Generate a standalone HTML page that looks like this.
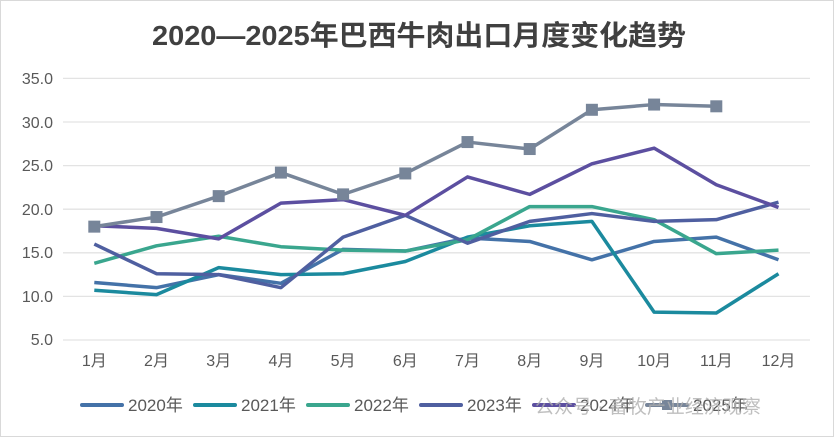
<!DOCTYPE html>
<html><head><meta charset="utf-8"><style>
body{margin:0;background:#fff}
svg{display:block;font-family:"Liberation Sans","Noto Sans CJK SC",sans-serif}
</style></head><body>
<svg width="834" height="437" viewBox="0 0 834 437">
<rect x="0.5" y="0.5" width="833" height="436" fill="#fff" stroke="#d9d9d9"/>
<text x="419" y="45" text-anchor="middle" font-size="28" font-weight="bold" fill="#404040" textLength="534" lengthAdjust="spacingAndGlyphs">2020—2025年巴西牛肉出口月度变化趋势</text>
<g stroke="#e3e3e3" stroke-width="1.3">
<line x1="63" x2="810" y1="78.4" y2="78.4"/><line x1="63" x2="810" y1="122" y2="122"/>
<line x1="63" x2="810" y1="165.6" y2="165.6"/><line x1="63" x2="810" y1="209.2" y2="209.2"/>
<line x1="63" x2="810" y1="252.8" y2="252.8"/><line x1="63" x2="810" y1="296.4" y2="296.4"/>
<line x1="63" x2="810" y1="340" y2="340"/>
</g>
<g font-size="16" fill="#595959" text-anchor="end">
<text x="53" y="84">35.0</text><text x="53" y="128">30.0</text><text x="53" y="171">25.0</text>
<text x="53" y="215">20.0</text><text x="53" y="258">15.0</text><text x="53" y="302">10.0</text><text x="53" y="345">5.0</text>
</g>
<g font-size="16" fill="#595959" text-anchor="middle" id="xl"></g>
<g id="series" fill="none" stroke-width="3.5" stroke-linejoin="round"></g>
<g font-size="17" fill="#595959">
<line x1="82" x2="122" y1="405" y2="405" stroke="#4472A8" stroke-width="4" stroke-linecap="round"/><text x="128" y="411">2020年</text>
<line x1="195" x2="235" y1="405" y2="405" stroke="#1B8A9E" stroke-width="4" stroke-linecap="round"/><text x="241" y="411">2021年</text>
<line x1="308" x2="348" y1="405" y2="405" stroke="#3AA68E" stroke-width="4" stroke-linecap="round"/><text x="354" y="411">2022年</text>
<line x1="421" x2="461" y1="405" y2="405" stroke="#4F5FA0" stroke-width="4" stroke-linecap="round"/><text x="467" y="411">2023年</text>
<line x1="534" x2="574" y1="405" y2="405" stroke="#5C4FA0" stroke-width="4" stroke-linecap="round"/><text x="580" y="411">2024年</text>
<line x1="647" x2="687" y1="405" y2="405" stroke="#778599" stroke-width="4" stroke-linecap="round"/><rect x="662" y="400" width="10" height="10" fill="#778599"/><text x="693" y="411">2025年</text>
</g>
<text x="535" y="413" font-size="19" fill="#b0b0b0" opacity="0.8">公众号 · 畜牧产业经济观察</text>
</svg>
<script>
const X=i=>94.3+62.2*i, Y=v=>340-(v-5)*8.72;
const xl=document.getElementById('xl');
for(let i=0;i<12;i++){const t=document.createElementNS('http://www.w3.org/2000/svg','text');t.setAttribute('x',X(i));t.setAttribute('y',366);t.textContent=(i+1)+'月';xl.appendChild(t);}
const S=[
['#4472A8',[11.6,11.0,12.5,11.5,15.4,15.2,16.7,16.3,14.2,16.3,16.8,14.2]],
['#1B8A9E',[10.7,10.2,13.3,12.5,12.6,14.0,16.8,18.1,18.6,8.2,8.1,12.6]],
['#3AA68E',[13.8,15.8,16.9,15.7,15.3,15.2,16.5,20.3,20.3,18.8,14.9,15.3]],
['#4F5FA0',[16.0,12.6,12.5,11.0,16.8,19.3,16.1,18.6,19.5,18.6,18.8,20.8]],
['#5C4FA0',[18.1,17.8,16.6,20.7,21.1,19.3,23.7,21.7,25.2,27.0,22.8,20.2]],
['#778599',[18.0,19.1,21.5,24.2,21.7,24.1,27.7,26.9,31.4,32.0,31.8]]];
const g=document.getElementById('series');
S.forEach(([c,d],k)=>{const p=document.createElementNS('http://www.w3.org/2000/svg','polyline');
p.setAttribute('points',d.map((v,i)=>X(i)+','+Y(v)).join(' '));p.setAttribute('stroke',c);g.appendChild(p);
if(k==5)d.forEach((v,i)=>{const r=document.createElementNS('http://www.w3.org/2000/svg','rect');r.setAttribute('x',X(i)-6);r.setAttribute('y',Y(v)-6);r.setAttribute('width',12);r.setAttribute('height',12);r.setAttribute('fill',c);r.setAttribute('stroke','none');g.appendChild(r);});});
</script>
</body></html>
